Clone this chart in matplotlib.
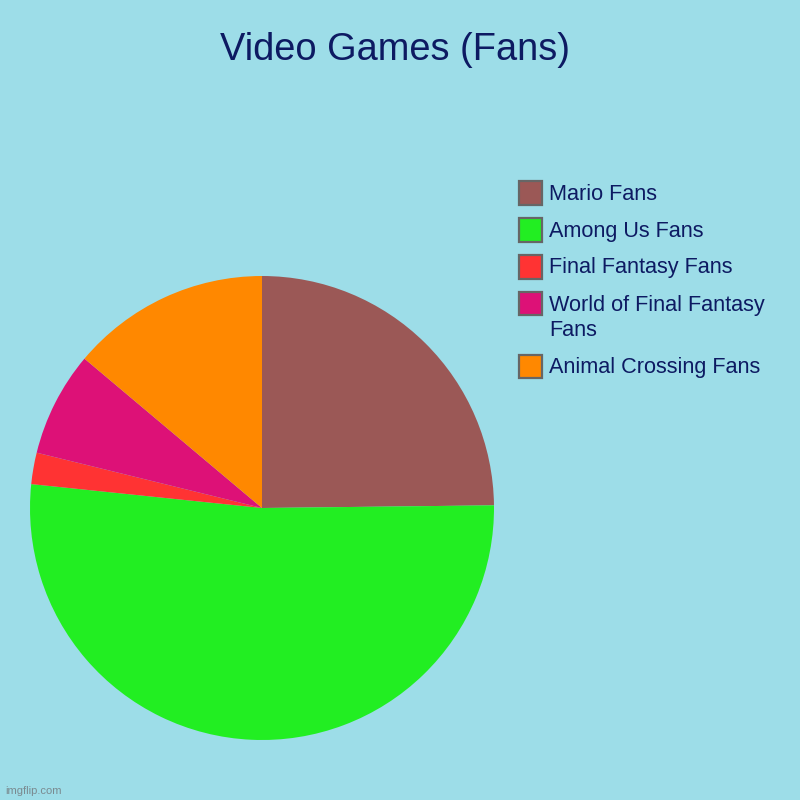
import textwrap

import matplotlib
matplotlib.use('Agg')
import matplotlib.pyplot as plt
from matplotlib.patches import Rectangle

labels = ['Mario Fans', 'Among Us Fans', 'Final Fantasy Fans',
          'World of Final Fantasy Fans', 'Animal Crossing Fans']
fans = [34, 71, 3, 10, 19]
colors = ['#9b5856', '#22ee22', '#ff3333', '#dd1177', '#ff8800']

bg = '#9ddde8'
navy = '#0d1a62'
plt.rcParams['font.family'] = ['Liberation Sans', 'DejaVu Sans']

fig = plt.figure(figsize=(8, 8), dpi=100, facecolor=bg)
ax = fig.add_axes([0.0375, 0.075, 0.58, 0.58])
ax.set_facecolor(bg)
ax.pie(fans, colors=colors, startangle=90, counterclock=False, radius=1,
       wedgeprops={'linewidth': 0})
ax.set_xlim(-1, 1)
ax.set_ylim(-1, 1)
ax.set_aspect('equal')
ax.axis('off')

fig.text(0.494, 1 - 50 / 800, 'Video Games (Fans)', ha='center', va='center',
         fontsize=27.4, color=navy)

# legend drawn by hand, in pixel units
y = 193
for lab, col in zip(labels, colors):
    fig.patches.append(Rectangle((519 / 800, 1 - (y + 11.5) / 800), 23 / 800, 23 / 800,
                                 transform=fig.transFigure, facecolor=col,
                                 edgecolor='#666666', linewidth=1.6))
    txt = textwrap.fill(lab, 22)
    fig.text(549 / 800, 1 - (y + 1) / 800, txt.split('\n')[0], ha='left', va='center',
             fontsize=15.6, color=navy)
    extra = txt.split('\n')[1:]
    for line in extra:
        y += 25
        fig.text(549 / 800, 1 - (y + 1) / 800, line, ha='left', va='center',
                 fontsize=15.6, color=navy)
    y += 37

fig.text(5 / 800, 1 - 791 / 800, 'imgflip.com', ha='left', va='center',
         fontsize=8, color='#7a8a90')

fig.savefig('out.png', dpi=100, facecolor=bg)
